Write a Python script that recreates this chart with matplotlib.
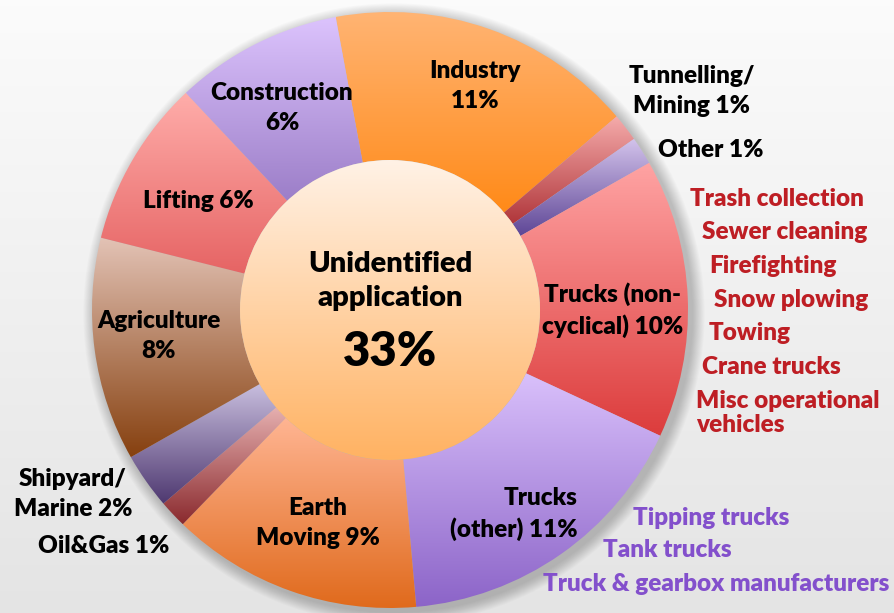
import matplotlib
matplotlib.use("Agg")
import matplotlib.pyplot as plt
import numpy as np
from matplotlib.patches import Circle

plt.rcParams['font.family'] = ['Lato', 'DejaVu Sans']

# ---- data -------------------------------------------------------------
names = ['Industry\n', 'Tunnelling/\nMining ', 'Other ', 'Trucks (non-\ncyclical) ',
         'Trucks\n(other) ', 'Earth\nMoving ', 'Oil&Gas ', 'Shipyard/\nMarine ',
         'Agriculture\n', 'Lifting ', 'Construction\n']
shares = [11, 1, 1, 10, 11, 9, 1, 2, 8, 6, 6]
unidentified = 33
center_title = 'Unidentified\napplication'

noncyclical_uses = ['Trash collection', 'Sewer cleaning', 'Firefighting', 'Snow plowing',
                    'Towing', 'Crane trucks', 'Misc operational\nvehicles']
other_truck_uses = ['Tipping trucks', 'Tank trucks', 'Truck & gearbox manufacturers']

# ---- styles / layout (pixel coords, y from top) --------------------------
W, H = 895, 613
cx, cy = 390, 310
r_out, r_in = 298, 150
top_cols = ['#ffb473', '#f5abab', '#d4c4ec', '#ffa3a3', '#d9c0fb', '#ffb593',
            '#e6b0b0', '#c8bede', '#e3c3b6', '#ffadaa', '#dcc3fd']
bot_cols = ['#ff8a18', '#b0363a', '#5e4696', '#dc3c3c', '#8c64c8', '#e06a1c',
            '#8a2a2e', '#4e3870', '#86400f', '#e66464', '#9c7ec8']
label_pos = [(475, 86), (692, 91), (711, 150), (613, 310), (578, 514), (318, 523),
             (104, 546), (73, 494), (159, 336), (198, 201), (282, 108)]
label_ha = ['center'] * 11
label_ha[4] = 'right'
red = '#be1e24'
purple = '#8350cc'
weight = 'heavy'


def Y(y):
    return H - y


def grad_fill(ax, patch, top, bottom, z):
    x0, y0, x1, y1 = patch.get_path().get_extents(patch.get_patch_transform()).extents
    c0 = np.array(matplotlib.colors.to_rgb(top))
    c1 = np.array(matplotlib.colors.to_rgb(bottom))
    t = np.linspace(0, 1, 256)[:, None]
    img = (c0 * (1 - t) + c1 * t)[:, None, :]
    im = ax.imshow(img, extent=(x0, x1, y0, y1), origin='upper', aspect='auto',
                   interpolation='bilinear', zorder=z)
    im.set_clip_path(patch)


fig = plt.figure(figsize=(W / 100, H / 100), dpi=100)
ax = fig.add_axes([0, 0, 1, 1])

# background
bg = np.linspace(0.985, 0.895, 256)[:, None, None] * np.ones((1, 1, 3))
ax.imshow(bg, extent=(0, W, 0, H), origin='upper', aspect='auto', zorder=0)

# soft shadow behind the ring
for i in range(14):
    ax.add_patch(Circle((cx + 4, Y(cy) - 4), r_out + 1 + i * 0.9, color='k',
                        alpha=0.016, lw=0, zorder=1))

wedges, _ = ax.pie(shares, startangle=100.5, counterclock=False, center=(cx, Y(cy)),
                   radius=r_out, wedgeprops=dict(width=r_out - r_in, lw=0))
for w, c0, c1 in zip(wedges, top_cols, bot_cols):
    w.set_facecolor('none')
    w.set_zorder(2)
    grad_fill(ax, w, c0, c1, 2)

# centre disc
disc = Circle((cx, Y(cy)), r_in, facecolor='none', lw=0, zorder=3)
ax.add_patch(disc)
grad_fill(ax, disc, '#fff2e6', '#ffb262', 3)

for name, v, (x, y), ha in zip(names, shares, label_pos, label_ha):
    ax.text(x, Y(y), f'{name}{v}%', ha=ha, va='center', fontsize=17.5,
            fontweight=weight, linespacing=1.45, zorder=5)

ax.text(cx, Y(281), center_title, ha='center', va='center', fontsize=21,
        fontweight=weight, linespacing=1.4, zorder=5)
ax.text(cx, Y(352), f'{unidentified}%', ha='center', va='center', fontsize=34,
        fontweight=weight, zorder=5)

red_x = [690, 702, 709, 714, 709, 702, 696]
red_y = [199, 232, 266, 300, 333, 367, 413]
for s, x, y in zip(noncyclical_uses, red_x, red_y):
    ax.text(x, Y(y), s, ha='left', va='center', fontsize=17.5, fontweight=weight,
            color=red, linespacing=1.1, zorder=5)

pur_x = [633, 603, 543]
pur_y = [518, 550, 584]
for s, x, y in zip(other_truck_uses, pur_x, pur_y):
    ax.text(x, Y(y), s, ha='left', va='center', fontsize=17.5, fontweight=weight,
            color=purple, zorder=5)

ax.set_xlim(0, W)
ax.set_ylim(0, H)
ax.set_aspect('equal')
ax.axis('off')
fig.savefig('out.png', dpi=100)
